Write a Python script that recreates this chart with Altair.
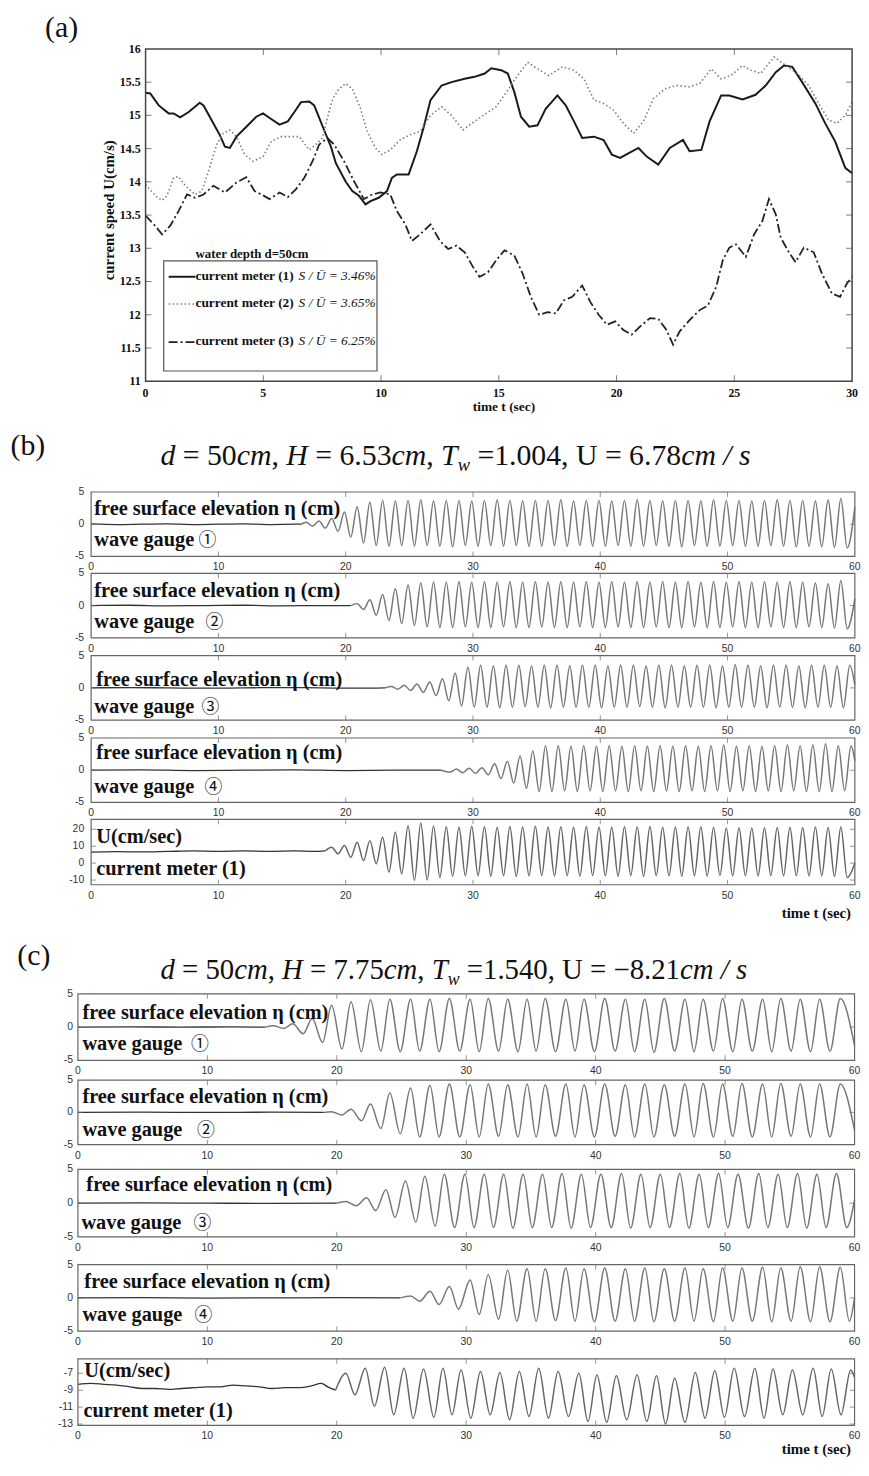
import altair as alt
import pandas as pd

# ------------------------------------------------------------------ data (a)
a_time_1 = [0, 0.2, 0.56, 0.98, 1.19, 1.47, 1.83, 2.1, 2.3, 2.46, 2.8, 3.16, 3.37, 3.58, 3.86, 4.28, 4.7, 4.99, 5.27, 5.69,
            6.04, 6.32, 6.6, 6.95, 7.16, 7.58, 7.87, 8.08, 8.5, 8.78, 9.06, 9.34, 9.55, 9.9, 10.25, 10.46, 10.67, 11.17, 11.52, 11.8,
            12.1, 12.57, 12.99, 13.55, 13.97, 14.4, 14.68, 15.1, 15.38, 15.66, 15.94, 16.29, 16.64, 16.99, 17.49, 17.84, 18.19, 18.54, 19.04, 19.45,
            19.8, 20.15, 20.5, 20.93, 21.28, 21.77, 22.26, 22.82, 23.1, 23.6, 23.95, 24.44, 24.79, 25.35, 25.9, 26.33, 26.76, 27.11, 27.46, 27.88,
            28.44, 28.86, 29.28, 29.71, 30.0]
a_speed_1 = [15.34, 15.33, 15.15, 15.03, 15.03, 14.97, 15.05, 15.13, 15.19, 15.15, 14.93, 14.7, 14.53, 14.51, 14.68, 14.83, 14.98, 15.03, 14.96, 14.86,
             14.91, 15.05, 15.2, 15.21, 15.15, 14.78, 14.53, 14.28, 14.0, 13.86, 13.79, 13.66, 13.71, 13.76, 13.86, 14.06, 14.11, 14.11, 14.46, 14.81,
             15.23, 15.45, 15.5, 15.55, 15.58, 15.63, 15.71, 15.68, 15.63, 15.35, 14.98, 14.83, 14.85, 15.1, 15.3, 15.15, 14.91, 14.66, 14.68, 14.63,
             14.41, 14.36, 14.43, 14.51, 14.38, 14.26, 14.51, 14.63, 14.46, 14.48, 14.91, 15.3, 15.3, 15.24, 15.31, 15.45, 15.65, 15.75, 15.73, 15.5,
             15.18, 14.88, 14.61, 14.21, 14.13]
a_time_2 = [0, 0.42, 0.7, 0.91, 1.19, 1.4, 1.69, 2.1, 2.39, 2.67, 3.02, 3.3, 3.58, 3.86, 4.21, 4.56, 4.99, 5.34, 5.76, 6.18,
            6.53, 6.95, 7.23, 7.51, 7.72, 7.94, 8.22, 8.5, 8.78, 9.13, 9.41, 9.76, 10.04, 10.39, 10.81, 11.24, 11.66, 12.1, 12.57, 12.99,
            13.48, 13.97, 14.47, 14.89, 15.38, 15.8, 16.22, 16.64, 17.13, 17.7, 18.19, 18.61, 19.04, 19.45, 19.87, 20.29, 20.72, 21.14, 21.56, 22.05,
            22.54, 23.1, 23.53, 24.02, 24.44, 24.86, 25.35, 25.7, 26.12, 26.69, 27.18, 27.67, 28.16, 28.58, 29.0, 29.35, 29.71, 30.0]
a_speed_2 = [13.96, 13.79, 13.72, 13.79, 14.06, 14.08, 13.94, 13.81, 13.86, 14.16, 14.56, 14.73, 14.78, 14.68, 14.41, 14.31, 14.38, 14.61, 14.68, 14.68,
             14.68, 14.48, 14.56, 14.66, 14.96, 15.25, 15.4, 15.48, 15.4, 15.1, 14.76, 14.51, 14.41, 14.48, 14.63, 14.71, 14.76, 15.0, 15.13, 15.0,
             14.78, 14.91, 15.03, 15.13, 15.38, 15.6, 15.8, 15.7, 15.6, 15.73, 15.68, 15.55, 15.23, 15.18, 15.08, 14.88, 14.73, 14.91, 15.25, 15.4,
             15.45, 15.43, 15.48, 15.7, 15.55, 15.6, 15.75, 15.68, 15.63, 15.88, 15.75, 15.63, 15.45, 15.18, 14.93, 14.88, 15.0, 15.2]
a_time_3 = [0, 0.35, 0.7, 1.05, 1.4, 1.76, 2.1, 2.46, 2.88, 3.37, 3.86, 4.28, 4.63, 4.92, 5.27, 5.69, 6.04, 6.39, 6.74, 7.09,
            7.37, 7.72, 8.01, 8.43, 8.85, 9.27, 9.62, 9.97, 10.39, 10.67, 11.03, 11.31, 11.66, 12.1, 12.5, 12.85, 13.2, 13.55, 13.9, 14.18,
            14.54, 14.89, 15.24, 15.66, 16.01, 16.36, 16.71, 17.07, 17.42, 17.77, 18.12, 18.54, 18.89, 19.24, 19.59, 19.94, 20.29, 20.64, 20.99, 21.42,
            21.77, 22.12, 22.4, 22.68, 23.1, 23.53, 23.88, 24.23, 24.51, 24.79, 25.07, 25.49, 25.84, 26.19, 26.47, 26.76, 26.97, 27.32, 27.6, 27.95,
            28.37, 28.72, 29.14, 29.49, 29.78, 30.0]
a_speed_3 = [13.49, 13.36, 13.21, 13.34, 13.56, 13.81, 13.76, 13.81, 13.94, 13.84, 13.99, 14.07, 13.86, 13.81, 13.74, 13.84, 13.77, 13.89, 14.06, 14.31,
             14.56, 14.66, 14.56, 14.31, 14.01, 13.74, 13.81, 13.84, 13.81, 13.56, 13.36, 13.11, 13.21, 13.36, 13.11, 12.99, 13.04, 12.94, 12.72, 12.57,
             12.64, 12.82, 12.97, 12.89, 12.62, 12.27, 12.0, 12.04, 12.02, 12.22, 12.27, 12.44, 12.19, 12.0, 11.85, 11.9, 11.77, 11.7, 11.82, 11.95,
             11.94, 11.77, 11.55, 11.75, 11.92, 12.07, 12.14, 12.42, 12.82, 13.01, 13.06, 12.87, 13.21, 13.41, 13.74, 13.51, 13.16, 12.94, 12.79, 13.01,
             12.94, 12.62, 12.32, 12.27, 12.47, 12.57]
a_xticks = [0, 5, 10, 15, 20, 25, 30]
a_xlabels = ["0", "5", "10", "15", "20", "25", "30"]
a_yticks = [11.0, 11.5, 12.0, 12.5, 13.0, 13.5, 14.0, 14.5, 15.0, 15.5, 16.0]
a_ylabels = ["11", "11.5", "12", "12.5", "13", "13.5", "14", "14.5", "15", "15.5", "16"]
a_names = ["current meter (1)", "current meter (2)", "current meter (3)"]
a_ratios = ["S / \u016a = 3.46%", "S / \u016a = 3.65%", "S / \u016a = 6.25%"]

# ------------------------------------------------------------------ data (b), (c)
t_ticks = [0, 10, 20, 30, 40, 50, 60]
t_labels = ["0", "10", "20", "30", "40", "50", "60"]
eta_ticks = [-5, 0, 5]
eta_labels = ["-5", "0", "5"]
ub_ticks = [-10, 0, 10, 20]
ub_labels = ["-10", "0", "10", "20"]
uc_ticks = [-13, -11, -9, -7]
uc_labels = ["-13", "-11", "-9", "-7"]

b1_quiet = [(0, 0.05), (2, -0.05), (4, 0.0), (6, 0.05), (8, -0.05), (10, 0.0), (12, 0.05), (14, -0.05), (16, 0.0), (16.5, 0.0)]
b1_wave = [(16.5, 0.0), (16.9, 0.3), (17.4, -0.3), (17.9, 0.5), (18.4, -0.6), (18.9, 0.9), (19.4, -1.1), (19.9, 1.9), (20.4, -2.0), (20.9, 2.7),
           (21.4, -2.9), (21.9, 3.4), (22.4, -3.3), (22.9, 3.7), (23.4, -3.4), (23.9, 3.6), (24.4, -3.3), (24.9, 3.7), (25.4, -3.4), (25.9, 3.8),
           (26.4, -3.3), (26.9, 3.6), (27.4, -3.4), (27.9, 3.7), (28.4, -3.5), (28.9, 3.7), (29.4, -3.3), (29.9, 3.6), (30.4, -3.4), (30.9, 3.7),
           (31.4, -3.3), (31.9, 3.8), (32.4, -3.4), (32.9, 3.7), (33.4, -3.3), (33.9, 3.6), (34.4, -3.4), (34.9, 3.7), (35.4, -3.4), (35.9, 3.7),
           (36.4, -3.3), (36.9, 3.8), (37.4, -3.4), (37.9, 3.6), (38.4, -3.3), (38.9, 3.7), (39.4, -3.4), (39.9, 3.7), (40.4, -3.4), (40.9, 3.6),
           (41.4, -3.3), (41.9, 3.7), (42.4, -3.4), (42.9, 3.8), (43.4, -3.4), (43.9, 3.7), (44.4, -3.3), (44.9, 3.6), (45.4, -3.4), (45.9, 3.7),
           (46.4, -3.5), (46.9, 3.7), (47.4, -3.3), (47.9, 3.6), (48.4, -3.4), (48.9, 3.8), (49.4, -3.4), (49.9, 3.7), (50.4, -3.3), (50.9, 3.7),
           (51.4, -3.4), (51.9, 3.6), (52.4, -3.4), (52.9, 3.7), (53.4, -3.3), (53.9, 3.8), (54.4, -3.4), (54.9, 3.7), (55.4, -3.5), (55.9, 3.7),
           (56.4, -3.4), (56.9, 3.6), (57.4, -3.5), (57.9, 3.8), (58.4, -3.6), (58.9, 4.0), (59.4, -3.7), (60.0, 2.6)]

b2_quiet = [(0, 0.0), (3, 0.05), (6, -0.05), (9, 0.0), (12, 0.05), (15, -0.05), (18, 0.0), (20.4, 0.0)]
b2_wave = [(20.4, 0.0), (20.9, 0.3), (21.4, -0.6), (21.9, 0.9), (22.4, -1.5), (22.9, 1.7), (23.4, -2.3), (23.9, 2.6), (24.4, -2.8), (24.9, 3.2),
           (25.4, -3.1), (25.9, 3.5), (26.4, -3.3), (26.9, 3.6), (27.4, -3.4), (27.9, 3.6), (28.4, -3.4), (28.9, 3.7), (29.4, -3.3), (29.9, 3.6),
           (30.4, -3.4), (30.9, 3.7), (31.4, -3.4), (31.9, 3.6), (32.4, -3.3), (32.9, 3.7), (33.4, -3.4), (33.9, 3.6), (34.4, -3.4), (34.9, 3.7),
           (35.4, -3.3), (35.9, 3.6), (36.4, -3.4), (36.9, 3.7), (37.4, -3.4), (37.9, 3.6), (38.4, -3.3), (38.9, 3.7), (39.4, -3.4), (39.9, 3.6),
           (40.4, -3.4), (40.9, 3.7), (41.4, -3.3), (41.9, 3.6), (42.4, -3.4), (42.9, 3.7), (43.4, -3.4), (43.9, 3.6), (44.4, -3.3), (44.9, 3.7),
           (45.4, -3.4), (45.9, 3.6), (46.4, -3.4), (46.9, 3.7), (47.4, -3.3), (47.9, 3.6), (48.4, -3.4), (48.9, 3.7), (49.4, -3.4), (49.9, 3.6),
           (50.4, -3.3), (50.9, 3.7), (51.4, -3.4), (51.9, 3.6), (52.4, -3.4), (52.9, 3.7), (53.4, -3.3), (53.9, 3.6), (54.4, -3.4), (54.9, 3.7),
           (55.4, -3.4), (55.9, 3.6), (56.4, -3.3), (56.9, 3.5), (57.4, -3.4), (57.9, 3.4), (58.4, -3.5), (58.9, 3.9), (59.4, -3.6), (60.0, 1.0)]

b3_quiet = [(0, 0.0), (3, 0.05), (6, 0.0), (9, -0.05), (12, 0.0), (15, 0.05), (18, 0.0), (21, -0.05), (23.1, 0.0)]
b3_wave = [(23.1, 0.0), (23.6, 0.2), (24.1, -0.2), (24.6, 0.4), (25.1, -0.4), (25.6, 0.6), (26.1, -0.7), (26.6, 0.9), (27.1, -1.2), (27.6, 1.4),
           (28.1, -2.0), (28.6, 2.3), (29.1, -2.8), (29.6, 3.2), (30.1, -3.0), (30.6, 3.5), (31.1, -3.0), (31.6, 3.4), (32.1, -3.1), (32.6, 3.5),
           (33.1, -3.0), (33.6, 3.5), (34.1, -2.9), (34.6, 3.4), (35.1, -3.0), (35.6, 3.5), (36.1, -3.1), (36.6, 3.5), (37.1, -3.0), (37.6, 3.4),
           (38.1, -3.0), (38.6, 3.5), (39.1, -3.0), (39.6, 3.5), (40.1, -3.1), (40.6, 3.4), (41.1, -3.0), (41.6, 3.5), (42.1, -3.0), (42.6, 3.5),
           (43.1, -2.9), (43.6, 3.4), (44.1, -3.0), (44.6, 3.5), (45.1, -3.1), (45.6, 3.5), (46.1, -3.0), (46.6, 3.4), (47.1, -3.0), (47.6, 3.5),
           (48.1, -3.0), (48.6, 3.5), (49.1, -3.1), (49.6, 3.4), (50.1, -3.0), (50.6, 3.6), (51.1, -3.0), (51.6, 3.5), (52.1, -3.0), (52.6, 3.4),
           (53.1, -3.1), (53.6, 3.5), (54.1, -3.0), (54.6, 3.5), (55.1, -3.0), (55.6, 3.4), (56.1, -3.1), (56.6, 3.5), (57.1, -3.0), (57.6, 3.5),
           (58.1, -3.0), (58.6, 3.4), (59.1, -3.1), (59.6, 3.5), (60.0, 0.5)]

b4_quiet = [(0, 0.0), (4, 0.05), (8, -0.05), (12, 0.0), (16, 0.05), (20, -0.05), (24, 0.0), (27.5, 0.0)]
b4_wave = [(27.5, 0.0), (28.2, -0.3), (28.7, 0.2), (29.2, -0.4), (29.7, 0.3), (30.2, -0.5), (30.7, 0.4), (31.2, -0.7), (31.7, 1.0), (32.2, -1.3),
           (32.7, 1.4), (33.2, -2.0), (33.7, 2.2), (34.2, -2.8), (34.7, 3.0), (35.2, -3.3), (35.7, 3.8), (36.2, -3.3), (36.7, 3.8), (37.2, -3.2),
           (37.7, 3.7), (38.2, -3.3), (38.7, 3.8), (39.2, -3.2), (39.7, 3.7), (40.2, -3.3), (40.7, 3.8), (41.2, -3.2), (41.7, 3.7), (42.2, -3.3),
           (42.7, 3.8), (43.2, -3.2), (43.7, 3.7), (44.2, -3.3), (44.7, 3.8), (45.2, -3.2), (45.7, 3.7), (46.2, -3.3), (46.7, 3.8), (47.2, -3.2),
           (47.7, 3.7), (48.2, -3.3), (48.7, 3.8), (49.2, -3.2), (49.7, 3.9), (50.2, -3.3), (50.7, 3.7), (51.2, -3.2), (51.7, 3.8), (52.2, -3.3),
           (52.7, 3.7), (53.2, -3.2), (53.7, 3.8), (54.2, -3.3), (54.7, 3.9), (55.2, -3.2), (55.7, 3.8), (56.2, -3.3), (56.7, 3.9), (57.2, -3.3),
           (57.7, 4.1), (58.2, -3.3), (58.7, 3.8), (59.2, -3.2), (59.7, 3.8), (60.0, 1.5)]

b5_quiet = [(0, 6.5), (2, 6.8), (4, 6.6), (6, 6.9), (8, 7.2), (10, 7.0), (12, 7.2), (14, 7.0), (16, 7.2), (17.5, 7.0), (18.4, 7.3)]
b5_wave = [(18.4, 7.3), (18.9, 9.4), (19.4, 5.5), (19.9, 10.4), (20.4, 3.5), (20.9, 12.3), (21.4, 1.5), (21.9, 13.3), (22.4, -0.4), (22.9, 15.3),
           (23.4, -5.3), (23.9, 18.2), (24.4, -6.3), (24.9, 22.1), (25.4, -10.2), (25.9, 23.7), (26.4, -10.0), (26.9, 22.0), (27.4, -8.5), (27.9, 21.5),
           (28.4, -7.8), (28.9, 21.2), (29.4, -7.5), (29.9, 21.8), (30.4, -7.3), (30.9, 21.5), (31.4, -7.6), (31.9, 21.2), (32.4, -7.4), (32.9, 21.6),
           (33.4, -7.8), (33.9, 21.4), (34.4, -7.5), (34.9, 21.8), (35.4, -7.3), (35.9, 21.3), (36.4, -7.6), (36.9, 21.5), (37.4, -7.4), (37.9, 21.2),
           (38.4, -7.7), (38.9, 21.6), (39.4, -7.3), (39.9, 21.4), (40.4, -7.5), (40.9, 21.2), (41.4, -7.6), (41.9, 21.5), (42.4, -7.3), (42.9, 21.3),
           (43.4, -7.8), (43.9, 21.6), (44.4, -7.4), (44.9, 21.2), (45.4, -7.5), (45.9, 21.4), (46.4, -7.7), (46.9, 21.3), (47.4, -7.4), (47.9, 21.5),
           (48.4, -7.6), (48.9, 21.0), (49.4, -7.3), (49.9, 20.8), (50.4, -7.5), (50.9, 20.9), (51.4, -7.4), (51.9, 20.7), (52.4, -7.6), (52.9, 20.9),
           (53.4, -7.3), (53.9, 21.0), (54.4, -7.5), (54.9, 21.2), (55.4, -7.4), (55.9, 21.0), (56.4, -7.6), (56.9, 21.3), (57.4, -7.5), (57.9, 21.1),
           (58.4, -7.8), (58.9, 21.4), (59.4, -8.5), (60.0, 0.0)]

c1_quiet = [(0, 0.0), (4, 0.03), (8, 0.0), (12, 0.03), (14.5, 0.0)]
c1_wave = [(14.5, 0.0), (15.1, 0.2), (15.9, -0.2), (16.6, 0.5), (17.4, -1.0), (18.1, 1.3), (18.9, -2.3), (19.6, 3.3), (20.4, -3.3), (21.1, 3.8),
           (21.9, -3.7), (22.6, 4.1), (23.4, -3.6), (24.1, 4.2), (24.9, -3.7), (25.7, 4.2), (26.4, -3.6), (27.2, 4.2), (27.9, -3.7), (28.7, 4.3),
           (29.5, -3.6), (30.3, 4.2), (31.0, -3.7), (31.7, 4.3), (32.5, -3.6), (33.2, 4.2), (34.0, -3.7), (34.7, 4.2), (35.4, -3.6), (36.1, 4.3),
           (36.9, -3.7), (37.7, 4.2), (38.4, -3.6), (39.1, 4.2), (39.9, -3.7), (40.7, 4.3), (41.5, -3.6), (42.3, 4.2), (43.0, -3.7), (43.8, 4.2),
           (44.5, -3.8), (45.3, 4.3), (46.1, -3.6), (46.9, 4.2), (47.6, -3.7), (48.3, 4.2), (49.1, -3.6), (49.8, 4.3), (50.6, -3.7), (51.3, 4.2),
           (52.1, -3.6), (52.9, 4.2), (53.6, -3.7), (54.3, 4.3), (55.1, -3.6), (55.8, 4.2), (56.6, -3.7), (57.3, 4.2), (58.1, -3.6), (58.9, 4.3),
           (60.0, -2.8)]

c2_quiet = [(0, 0.0), (5, 0.03), (10, 0.0), (15, 0.03), (19.0, 0.0)]
c2_wave = [(19.0, 0.0), (19.6, 0.1), (20.4, -0.4), (21.1, 0.5), (21.9, -1.3), (22.6, 1.3), (23.4, -2.5), (24.1, 3.0), (24.9, -3.3), (25.7, 3.8),
           (26.4, -3.8), (27.2, 4.2), (27.9, -3.8), (28.7, 4.4), (29.5, -3.8), (30.3, 4.3), (31.0, -3.8), (31.7, 4.4), (32.5, -3.7), (33.2, 4.3),
           (34.0, -3.8), (34.7, 4.4), (35.4, -3.8), (36.1, 4.3), (36.9, -3.7), (37.7, 4.4), (38.4, -3.8), (39.1, 4.3), (39.9, -3.8), (40.7, 4.4),
           (41.5, -3.7), (42.3, 4.3), (43.0, -3.8), (43.8, 4.4), (44.5, -3.8), (45.3, 4.3), (46.1, -3.7), (46.9, 4.4), (47.6, -3.8), (48.3, 4.5),
           (49.1, -3.8), (49.8, 4.4), (50.6, -3.7), (51.3, 4.5), (52.1, -3.8), (52.9, 4.4), (53.6, -3.8), (54.3, 4.5), (55.1, -3.7), (55.8, 4.4),
           (56.6, -3.8), (57.3, 4.4), (58.1, -3.8), (58.9, 4.4), (60.0, -2.8)]

c3_quiet = [(0, 0.0), (5, 0.03), (10, 0.0), (15, -0.03), (20.0, 0.0)]
c3_wave = [(20.0, 0.0), (20.7, 0.25), (21.5, -0.4), (22.3, 0.8), (23.0, -1.1), (23.8, 2.0), (24.5, -2.1), (25.3, 3.3), (26.1, -2.8), (26.8, 4.0),
           (27.6, -3.4), (28.3, 4.3), (29.1, -3.6), (29.9, 4.3), (30.6, -3.6), (31.4, 4.3), (32.1, -3.6), (32.9, 4.3), (33.6, -3.7), (34.4, 4.3),
           (35.1, -3.6), (35.9, 4.3), (36.6, -3.6), (37.4, 4.4), (38.1, -3.7), (38.9, 4.3), (39.6, -3.6), (40.4, 4.3), (41.2, -3.6), (42.0, 4.4),
           (42.7, -3.7), (43.5, 4.3), (44.2, -3.6), (45.0, 4.3), (45.7, -3.6), (46.5, 4.4), (47.2, -3.7), (48.0, 4.3), (48.7, -3.6), (49.5, 4.4),
           (50.2, -3.6), (51.0, 4.3), (51.8, -3.7), (52.6, 4.4), (53.3, -3.6), (54.1, 4.3), (54.8, -3.6), (55.6, 4.4), (56.3, -3.7), (57.1, 4.3),
           (57.8, -3.6), (58.6, 4.4), (59.4, -3.6), (60.0, 0.5)]

c4_quiet = [(0, 0.0), (5, 0.03), (10, -0.03), (15, 0.0), (20, 0.03), (24.9, 0.0)]
c4_wave = [(24.9, 0.0), (25.7, 0.3), (26.4, -0.5), (27.2, 1.0), (27.9, -1.0), (28.7, 1.7), (29.4, -1.7), (30.3, 2.7), (31.0, -2.5), (31.7, 3.5),
           (32.5, -3.2), (33.2, 4.2), (33.9, -3.5), (34.7, 4.4), (35.4, -3.5), (36.1, 4.4), (36.9, -3.4), (37.7, 4.5), (38.4, -3.5), (39.1, 4.4),
           (39.9, -3.6), (40.7, 4.5), (41.5, -3.5), (42.3, 4.4), (43.0, -3.5), (43.8, 4.5), (44.5, -3.6), (45.3, 4.4), (46.1, -3.5), (46.9, 4.5),
           (47.6, -3.5), (48.3, 4.4), (49.1, -3.6), (49.8, 4.5), (50.6, -3.5), (51.3, 4.5), (52.1, -3.5), (52.9, 4.6), (53.6, -3.6), (54.3, 4.5),
           (55.1, -3.5), (55.8, 4.7), (56.6, -3.6), (57.3, 4.7), (58.1, -3.6), (58.9, 4.6), (59.6, -3.5), (60.0, 0.0)]

c5_quiet = [(0, -8.3), (1, -8.2), (2, -8.3), (3, -8.4), (4, -8.6), (5, -8.8), (6, -8.8), (7, -8.9), (8, -8.8), (9, -8.7), (10, -8.6),
            (11, -8.6), (12, -8.4), (13, -8.5), (14, -8.6), (15, -8.8), (16, -8.7), (17, -8.7), (18, -8.5), (18.8, -8.2), (19.3, -8.6), (19.9, -9.0)]
c5_wave = [(19.9, -9.0), (20.7, -7.0), (21.4, -9.55), (22.2, -6.4), (22.9, -10.9), (23.7, -6.3), (24.4, -11.9), (25.2, -6.4), (25.9, -12.3), (26.7, -6.5),
           (27.5, -12.2), (28.2, -6.4), (28.9, -11.9), (29.6, -6.6), (30.35, -12.3), (31.1, -6.8), (31.85, -11.9), (32.6, -6.9), (33.35, -12.5), (34.1, -6.8),
           (34.85, -12.1), (35.6, -6.4), (36.35, -12.3), (37.1, -6.8), (37.9, -12.1), (38.7, -7.0), (39.4, -12.7), (40.1, -7.2), (40.85, -12.8), (41.6, -7.3),
           (42.4, -12.5), (43.2, -7.2), (43.95, -12.7), (44.7, -7.3), (45.4, -13.0), (46.1, -7.6), (46.9, -12.8), (47.7, -6.9), (48.45, -12.3), (49.2, -6.7),
           (49.95, -12.2), (50.7, -6.4), (51.5, -12.1), (52.3, -6.4), (53.0, -12.3), (53.7, -6.5), (54.45, -11.9), (55.2, -6.6), (56.0, -11.9), (56.8, -6.4),
           (57.5, -12.1), (58.2, -6.5), (58.95, -11.9), (59.7, -6.6), (60.0, -7.5)]

# ------------------------------------------------------------------ layout
W, H, M = 860, 1454, 8
SERIF, SANS, CJK = "Liberation Serif", "Liberation Sans", "Noto Sans CJK JP"
ONE = pd.DataFrame({"k": [0]})


def cx(x):
    return x - M


def cy(y):
    return y - M


def text(s, x, y, size, weight="normal", style="normal", align="left", baseline="middle",
         angle=0, font=SERIF, color="#111"):
    kw = dict(text=s, font=font, fontSize=size, fontWeight=weight, fontStyle=style,
              align=align, baseline=baseline, color=color)
    if angle:
        kw["angle"] = angle
    return alt.Chart(ONE).mark_text(**kw).encode(x=alt.value(cx(x)), y=alt.value(cy(y)))


def pts(pairs):
    return pd.DataFrame({"t": [p[0] for p in pairs], "v": [p[1] for p in pairs]})


def panel(lines, xdom, ydom, box, xt, xl, yt, yl, frame_color, frame_w, tick_len,
          lab_font, lab_size, lab_weight, lab_color, xlab_dy, ylab_dx):
    x0, x1, ytop, ybot = box
    xs = alt.Scale(domain=xdom, range=[cx(x0), cx(x1)], nice=False, zero=False)
    ys = alt.Scale(domain=ydom, range=[cy(ybot), cy(ytop)], nice=False, zero=False)

    def XF(f):
        return alt.X(f, scale=xs, axis=None)

    def YF(f):
        return alt.Y(f, scale=ys, axis=None)

    def XD(d):
        return alt.X(datum=d, type="quantitative", scale=xs, axis=None)

    def YD(d):
        return alt.Y(datum=d, type="quantitative", scale=ys, axis=None)

    layers = []
    for df, style in lines:
        layers.append(alt.Chart(df).mark_line(**style).encode(x=XF("t:Q"), y=YF("v:Q")))
    layers.append(alt.Chart(ONE).mark_rect(fill="white", fillOpacity=0, stroke=frame_color,
                                           strokeWidth=frame_w).encode(
        x=XD(xdom[0]), x2=alt.X2(datum=xdom[1]), y=YD(ydom[0]), y2=alt.Y2(datum=ydom[1])))
    xin = pd.DataFrame({"v": [v for v in xt if xdom[0] < v < xdom[1]]})
    yin = pd.DataFrame({"v": [v for v in yt if ydom[0] < v < ydom[1]]})
    half = tick_len / 2.0
    layers.append(alt.Chart(xin).mark_tick(orient="vertical", size=tick_len, thickness=1, yOffset=-half,
                                           color=frame_color).encode(x=XF("v:Q"), y=YD(ydom[0])))
    layers.append(alt.Chart(xin).mark_tick(orient="vertical", size=tick_len, thickness=1, yOffset=half,
                                           color=frame_color).encode(x=XF("v:Q"), y=YD(ydom[1])))
    layers.append(alt.Chart(yin).mark_tick(orient="horizontal", size=tick_len, thickness=1, xOffset=half,
                                           color=frame_color).encode(x=XD(xdom[0]), y=YF("v:Q")))
    layers.append(alt.Chart(yin).mark_tick(orient="horizontal", size=tick_len, thickness=1, xOffset=-half,
                                           color=frame_color).encode(x=XD(xdom[1]), y=YF("v:Q")))
    layers.append(alt.Chart(pd.DataFrame({"v": xt, "lab": xl})).mark_text(
        dy=xlab_dy, font=lab_font, fontSize=lab_size, fontWeight=lab_weight, color=lab_color,
        baseline="middle").encode(x=XF("v:Q"), y=YD(ydom[0]), text="lab:N"))
    layers.append(alt.Chart(pd.DataFrame({"v": yt, "lab": yl})).mark_text(
        dx=ylab_dx, align="right", font=lab_font, fontSize=lab_size, fontWeight=lab_weight, color=lab_color,
        baseline="middle").encode(x=XD(xdom[0]), y=YF("v:Q"), text="lab:N"))
    return alt.layer(*layers)


REG_W = {" ": 250, ".": 250, ",": 250, "=": 564, "U": 722, "/": 278, "\u2212": 564}
IT_W = {"d": 500, "c": 444, "m": 722, "H": 722, "T": 556, "w": 667, "s": 389, "/": 278, " ": 250}


def title(segments, x_start, base_y, size):
    out = []
    cur = x_start
    for s, italic, sub in segments:
        tbl = IT_W if italic else REG_W
        fs = size * 0.62 if sub else size
        lead = len(s) - len(s.lstrip(" "))
        wtot = sum(tbl.get(ch, 500) for ch in s) / 1000.0 * fs
        out.append(text(s.strip(), cur + lead * 0.25 * fs, base_y + (6 if sub else 0), fs,
                        style="italic" if italic else "normal", baseline="alphabetic"))
        cur += wtot
    return out


layers = []

# ---------------- panel (a)
a_lines = [
    (pts(list(zip(a_time_1, a_speed_1))), dict(color="#1a1a1a", strokeWidth=2.0)),
    (pts(list(zip(a_time_2, a_speed_2))), dict(color="#7a7a7a", strokeWidth=1.6, strokeDash=[1.5, 2.5])),
    (pts(list(zip(a_time_3, a_speed_3))), dict(color="#222222", strokeWidth=1.8, strokeDash=[9, 3, 2, 3])),
]
layers.append(panel(a_lines, [0, 30], [11, 16], (146.7, 859, 43.3, 378.3), a_xticks, a_xlabels,
                    a_yticks, a_ylabels, "#444444", 1.5, 6, SERIF, 12, "bold", "#111", 12, -5))
layers.append(text("(a)", 62, 22, 30, align="center"))
layers.append(text("current speed U(cm/s)", 110, 206, 15, weight="bold", align="center", angle=270))
layers.append(text("time t (sec)", 508, 404, 13.5, weight="bold", align="center"))
layers.append(text("water depth d=50cm", 197, 250, 13, weight="bold"))
layers.append(alt.Chart(ONE).mark_rect(fill="white", fillOpacity=0, stroke="#555", strokeWidth=1.2).encode(
    x=alt.value(cx(165)), x2=alt.value(cx(380)), y=alt.value(cy(257)), y2=alt.value(cy(368))))
leg_y = [272, 299.5, 338]
leg_style = [dict(color="#1a1a1a", strokeWidth=2.0), dict(color="#7a7a7a", strokeWidth=1.6, strokeDash=[1.5, 2.5]),
             dict(color="#222222", strokeWidth=1.8, strokeDash=[9, 3, 2, 3])]
for i in range(3):
    layers.append(alt.Chart(ONE).mark_rule(**leg_style[i]).encode(
        x=alt.value(cx(170)), x2=alt.value(cx(197)), y=alt.value(cy(leg_y[i] + 1))))
    layers.append(text(a_names[i], 197, leg_y[i], 13.5, weight="bold"))
    layers.append(text(a_ratios[i], 301, leg_y[i], 13.5, style="italic"))

# ---------------- panels (b) and (c)
QUIET = dict(color="#333333", strokeWidth=1.3, interpolate="monotone")
WAVE = dict(color="#777777", strokeWidth=1.5, interpolate="monotone")
WAVE_U = dict(color="#666666", strokeWidth=1.5, interpolate="monotone")

b_x = (91.8, 861.8)
c_x = (78.5, 861.5)
b_rows = [(490, 555), (572, 637), (655, 720), (738, 803), (820, 886)]
c_rows = [(996, 1063), (1083, 1148), (1173, 1241), (1269, 1336), (1364, 1431)]
b_series = [(b1_quiet, b1_wave), (b2_quiet, b2_wave), (b3_quiet, b3_wave), (b4_quiet, b4_wave), (b5_quiet, b5_wave)]
c_series = [(c1_quiet, c1_wave), (c2_quiet, c2_wave), (c3_quiet, c3_wave), (c4_quiet, c4_wave), (c5_quiet, c5_wave)]

for i in range(5):
    q, w = b_series[i]
    top, bot = b_rows[i]
    if i < 4:
        ydom, yt, yl = [-5, 5], eta_ticks, eta_labels
    else:
        ydom, yt, yl = [-12.8, 25.9], ub_ticks, ub_labels
    layers.append(panel([(pts(q), QUIET), (pts(w), WAVE if i < 4 else WAVE_U)], [0, 60], ydom,
                        (b_x[0], b_x[1], top, bot), t_ticks, t_labels, yt, yl,
                        "#666666", 1.2, 5, SANS, 10.5, "normal", "#333", 11, -7))

for i in range(5):
    q, w = c_series[i]
    top, bot = c_rows[i]
    if i < 4:
        ydom, yt, yl = [-5, 5], eta_ticks, eta_labels
    else:
        ydom, yt, yl = [-13.15, -5.3], uc_ticks, uc_labels
    layers.append(panel([(pts(q), QUIET), (pts(w), WAVE if i < 4 else WAVE_U)], [0, 60], ydom,
                        (c_x[0], c_x[1], top, bot), t_ticks, t_labels, yt, yl,
                        "#666666", 1.2, 5, SANS, 10.5, "normal", "#333", 11, -5))

FS = "free surface elevation \u03b7 (cm)"
# (text1, x1, y1, text2, x2, y2, circled digit or "", digit centre x)
b_text = [
    (FS, 95, 507, "wave gauge", 95, 538, "\u2460", 209),
    (FS, 95, 590, "wave gauge", 95, 621.5, "\u2461", 216),
    (FS, 97, 680, "wave gauge", 95, 707, "\u2462", 212),
    (FS, 97, 753, "wave gauge", 95, 787, "\u2463", 215),
    ("U(cm/sec)", 97, 838, "current meter (1)", 97, 870, "", 0),
]
c_text = [
    (FS, 83, 1015, "wave gauge", 83, 1047, "\u2460", 201.5),
    (FS, 83, 1100, "wave gauge", 83, 1133, "\u2461", 207.5),
    (FS, 87, 1189, "wave gauge", 82, 1227, "\u2462", 204),
    (FS, 85, 1287, "wave gauge", 83, 1320, "\u2463", 205),
    ("U(cm/sec)", 85, 1376, "current meter (1)", 84, 1417, "", 0),
]
for s1, x1, y1, s2, x2, y2, dg, dgx in b_text + c_text:
    layers.append(text(s1, x1, y1, 20.5, weight="bold"))
    layers.append(text(s2, x2, y2, 20.5, weight="bold"))
    if dg:
        layers.append(text(dg, dgx, y2 + 1, 18, align="center", font=CJK))

layers.append(text("(b)", 28, 444, 30, align="center"))
layers.append(text("(c)", 34, 958, 30, align="center"))
layers.append(text("time t (sec)", 858, 915, 15, weight="bold", align="right"))
layers.append(text("time t (sec)", 858, 1455, 15, weight="bold", align="right"))

seg_b = [("d", True, False), (" = 50", False, False), ("cm", True, False), (", ", False, False),
         ("H", True, False), (" = 6.53", False, False), ("cm", True, False), (", ", False, False),
         ("T", True, False), ("w", True, True), (" =1.004, U = 6.78", False, False), ("cm / s", True, False)]
seg_c = [("d", True, False), (" = 50", False, False), ("cm", True, False), (", ", False, False),
         ("H", True, False), (" = 7.75", False, False), ("cm", True, False), (", ", False, False),
         ("T", True, False), ("w", True, True), (" =1.540, U = \u22128.21", False, False), ("cm / s", True, False)]
layers += title(seg_b, 161.7, 463, 30)
layers += title(seg_c, 161.7, 981, 29)

chart = alt.layer(*layers).resolve_scale(x="independent", y="independent").properties(
    width=W, height=H, padding=0, autosize=alt.AutoSizeParams(type="none"), background="white"
).configure_view(stroke=None)

chart.save("out.html", embed_options={"renderer": "svg", "actions": False})
